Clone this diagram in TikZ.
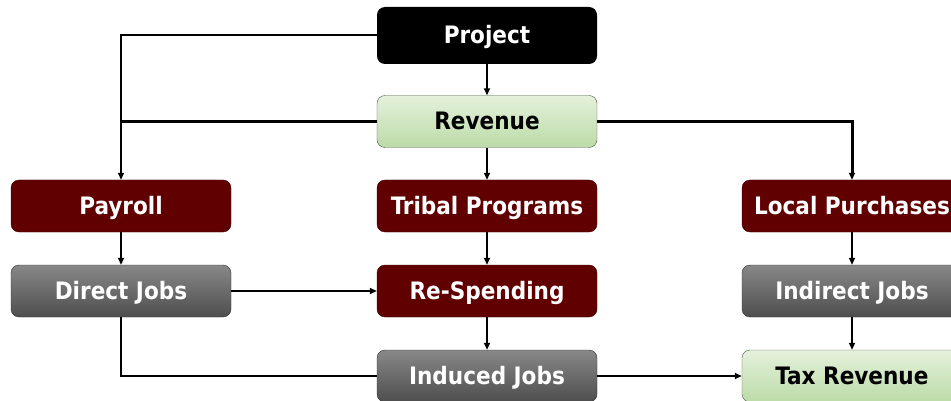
\documentclass[tikz,border=0pt]{standalone}
\usepackage{fontspec}
\setmainfont{DejaVu Sans Condensed}
\usetikzlibrary{arrows.meta}
\definecolor{boxred}{HTML}{600000}
\definecolor{grayhi}{HTML}{888888}
\definecolor{graylo}{HTML}{4E4E4E}
\definecolor{greenhi}{HTML}{E4F1DC}
\definecolor{greenlo}{HTML}{BCDBA8}
\tikzset{
  box/.style={rounded corners=8pt, minimum width=220pt, minimum height=52pt,
    font=\fontsize{24}{28}\selectfont\bfseries, inner sep=0pt,
    text height=17pt, text depth=0pt},
  blackbox/.style={box, fill=black, text=white},
  redbox/.style={box, fill=boxred, draw=boxred!60!black, text=white},
  graybox/.style={box, top color=grayhi, bottom color=graylo, draw=graylo!60!black, text=white},
  greenbox/.style={box, top color=greenhi, bottom color=greenlo, draw=greenlo!40!black, text=black},
  link/.style={line width=2pt},
  flow/.style={link, -{Triangle[length=7pt,width=6pt]}}
}
\begin{document}
\begin{tikzpicture}[x=1pt,y=-1pt]
  \useasboundingbox (0,0) rectangle (951,401);
  \clip (0,0) rectangle (951,401);
  % boxes
  \node[blackbox, minimum height=57pt] (project) at (487,35.5) {Project};
  \node[greenbox] (revenue) at (487,121.5) {Revenue};
  \node[redbox] (payroll) at (121,206) {Payroll};
  \node[redbox] (tribal) at (487,206) {Tribal Programs};
  \node[redbox] (local) at (852,206) {Local Purchases};
  \node[graybox] (direct) at (121,291) {Direct Jobs};
  \node[redbox] (respend) at (487,291) {Re-Spending};
  \node[graybox] (indirect) at (852,291) {Indirect Jobs};
  \node[graybox] (induced) at (487,376) {Induced Jobs};
  \node[greenbox] (tax) at (852,376) {Tax Revenue};
  % connectors
  \draw[flow] (project.west) -| (payroll.north);
  \draw[link, line width=3pt] (revenue.west) -- (payroll.north |- revenue.west);
  \draw[flow, line width=3pt] (revenue.east) -| (local.north);
  \draw[flow] (project) -- (revenue);
  \draw[flow] (revenue) -- (tribal);
  \draw[flow] (tribal) -- (respend);
  \draw[flow] (respend) -- (induced);
  \draw[flow] (payroll) -- (direct);
  \draw[flow] (direct) -- (respend);
  \draw[link] (direct.south) |- (induced.west);
  \draw[flow] (induced) -- (tax);
  \draw[flow] (local) -- (indirect);
  \draw[flow] (indirect) -- (tax);
\end{tikzpicture}
\end{document}
